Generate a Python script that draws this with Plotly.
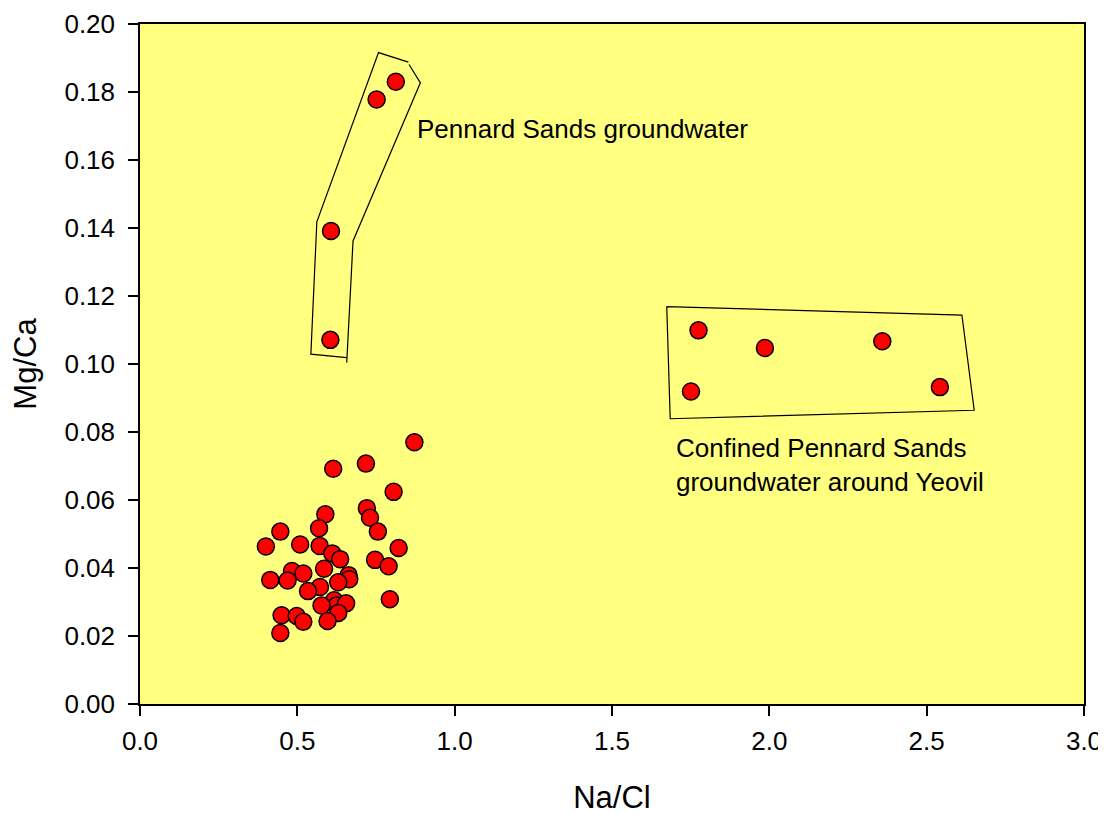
import plotly.graph_objects as go

# Main cluster of samples
cluster_x = [0.872, 0.614, 0.718, 0.806, 0.721, 0.731, 0.756, 0.589, 0.569, 0.446,
             0.400, 0.509, 0.571, 0.822, 0.611, 0.636, 0.747, 0.790, 0.585, 0.483,
             0.519, 0.414, 0.469, 0.663, 0.665, 0.630, 0.572, 0.534, 0.794, 0.617,
             0.625, 0.655, 0.577, 0.630, 0.596, 0.450, 0.498, 0.519, 0.446]
cluster_y = [0.0770, 0.0692, 0.0707, 0.0624, 0.0576, 0.0548, 0.0507, 0.0558, 0.0517, 0.0507,
             0.0463, 0.0469, 0.0465, 0.0459, 0.0443, 0.0426, 0.0424, 0.0405, 0.0398, 0.0391,
             0.0384, 0.0365, 0.0363, 0.0379, 0.0367, 0.0358, 0.0344, 0.0332, 0.0308, 0.0305,
             0.0290, 0.0296, 0.0290, 0.0268, 0.0244, 0.0261, 0.0259, 0.0242, 0.0209]

# Pennard Sands groundwater
pennard_x = [0.813, 0.752, 0.607, 0.605]
pennard_y = [0.1830, 0.1778, 0.1391, 0.1071]

# Confined Pennard Sands groundwater around Yeovil
confined_x = [1.775, 1.986, 2.359, 2.542, 1.751]
confined_y = [0.1099, 0.1047, 0.1067, 0.0932, 0.0919]

# Enclosing outlines (annotation polylines)
outline1_x = [0.853, 0.758, 0.562, 0.543, 0.657]
outline1_y = [0.1888, 0.1916, 0.1418, 0.1029, 0.1019]
outline2_x = [0.855, 0.891, 0.677, 0.657]
outline2_y = [0.1881, 0.1827, 0.1362, 0.1004]
outline3_x = [1.674, 2.612, 2.651, 1.685, 1.674]
outline3_y = [0.1169, 0.1144, 0.0864, 0.0839, 0.1169]

x_ticks = [0.0, 0.5, 1.0, 1.5, 2.0, 2.5, 3.0]
y_ticks = [0.00, 0.02, 0.04, 0.06, 0.08, 0.10, 0.12, 0.14, 0.16, 0.18, 0.20]

FONT = "Liberation Sans, Arial, sans-serif"

fig = go.Figure()

for ox, oy in [(outline1_x, outline1_y), (outline2_x, outline2_y), (outline3_x, outline3_y)]:
    fig.add_trace(go.Scatter(x=ox, y=oy, mode="lines",
                             line=dict(color="black", width=1.2),
                             showlegend=False, hoverinfo="skip"))

all_x = cluster_x + pennard_x + confined_x
all_y = cluster_y + pennard_y + confined_y
fig.add_trace(go.Scatter(
    x=all_x, y=all_y, mode="markers",
    marker=dict(size=17, color="#ff0000", line=dict(color="black", width=1.5)),
    showlegend=False))

fig.add_annotation(x=0.874, y=0.1691, text="Pennard Sands groundwater",
                   showarrow=False, xanchor="left", yanchor="middle",
                   font=dict(family=FONT, size=26, color="black"))
fig.add_annotation(x=1.697, y=0.0703,
                   text="Confined Pennard Sands<br>groundwater around Yeovil",
                   showarrow=False, xanchor="left", yanchor="middle", align="left",
                   font=dict(family=FONT, size=26, color="black"))

fig.update_layout(
    width=1099, height=807,
    margin=dict(l=132, r=23, t=16, b=111, autoexpand=False),
    paper_bgcolor="white",
    plot_bgcolor="#ffff80",
    font=dict(family=FONT, size=26, color="black"),
    xaxis=dict(range=[0, 3.0], tickvals=x_ticks, tickformat=".1f",
               showgrid=False, zeroline=False,
               showline=True, linecolor="black", linewidth=1.5, mirror=True,
               ticks="outside", ticklen=10, tickwidth=1.5, tickcolor="black",
               ticklabelstandoff=3,
               title=dict(text="Na/Cl", font=dict(size=31), standoff=33)),
    yaxis=dict(range=[0, 0.20], tickvals=y_ticks, tickformat=".2f",
               showgrid=False, zeroline=False,
               showline=True, linecolor="black", linewidth=1.5, mirror=True,
               ticks="outside", ticklen=10, tickwidth=1.5, tickcolor="black",
               ticklabelstandoff=8,
               title=dict(text="Mg/Ca", font=dict(size=31), standoff=20)),
)

fig.write_html("out.html")
